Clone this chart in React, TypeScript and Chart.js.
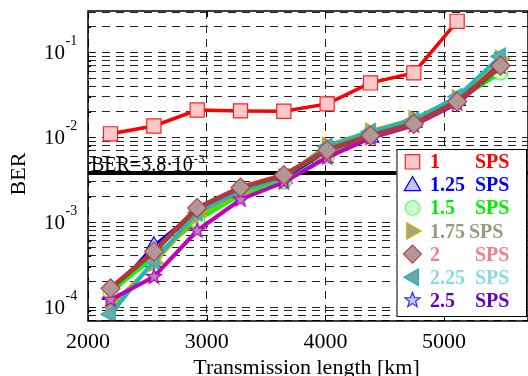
import React, { useEffect, useRef } from 'react';
import { Chart, registerables } from 'chart.js';

Chart.register(...registerables);

// ---------- data ----------
const lengthKm = [2190, 2555, 2920, 3285, 3650, 4015, 4380, 4745, 5110, 5475];
const ber1 = [0.011, 0.0136, 0.021, 0.0205, 0.0203, 0.0248, 0.0438, 0.0575, 0.233];
const ber125 = [1.4e-4, 5.2e-4, 1.35e-3, 2.4e-3, 3.3e-3, 7.0e-3, 0.0100, 0.0150, 0.027, 0.080];
const ber15 = [1.5e-4, 3.9e-4, 1.05e-3, 2.1e-3, 3.0e-3, 6.0e-3, 0.0112, 0.0145, 0.027, 0.058];
const ber175 = [1.0e-4, 3.3e-4, 1.2e-3, 2.2e-3, 3.4e-3, 8.0e-3, 0.0118, 0.0165, 0.029, 0.085];
const ber2 = [1.66e-4, 4.5e-4, 1.47e-3, 2.56e-3, 3.58e-3, 7.06e-3, 0.0105, 0.0144, 0.0264, 0.070];
const ber225 = [8.2e-5, 3.5e-4, 1.3e-3, 2.3e-3, 3.4e-3, 7.8e-3, 0.0116, 0.0160, 0.030, 0.090];
const ber25 = [1.22e-4, 2.27e-4, 7.96e-4, 1.85e-3, 2.95e-3, 5.8e-3, 0.0098, 0.0138, 0.025, 0.068];

const seriesValues = [ber1, ber125, ber15, ber175, ber2, ber225, ber25];
const spsLabels = ['1', '1.25', '1.5', '1.75', '2', '2.25', '2.5'];
const unitLabel = 'SPS';

const xTickValues = [2000, 3000, 4000, 5000];
const yDecadeTicks = [1e-4, 1e-3, 1e-2, 1e-1];
const yDecadeExponents = ['-4', '-3', '-2', '-1'];

const berLimit = 3.8e-3;
const berLimitLabel = 'BER=3.8·10';
const berLimitExponent = '-3';
const xTitle = 'Transmission length [km]';
const yTitle = 'BER';

const xMin = 2000;
const xMax = 5707;
const yMin = 6.84e-5;
const yMax = 0.3084;

// ---------- styles ----------
type Shape = 'square' | 'triUp' | 'circle' | 'triRight' | 'diamond' | 'triLeft' | 'star';
const shapes: Shape[] = ['square', 'triUp', 'circle', 'triRight', 'diamond', 'triLeft', 'star'];
const lineColors = ['#ff0000', '#0000ff', '#00ff00', '#b8b000', '#b03838', '#20b8c0', '#c000c0'];
const fillColors = ['#ffc8c8', '#c4c4f4', '#ccffcc', '#a8a478', '#b09898', '#70a8a8', '#c080c8'];
const strokeColors = ['#ff2020', '#0000ff', '#40ff40', '#c0b000', '#b84040', '#10b8c0', '#b000b0'];
const legendFills = ['#ffc8c8', '#c4c4f4', '#ccffcc', '#a8a478', '#b09898', '#70a8a8', '#c8c8ff'];
const legendStrokes = ['#ff2020', '#0000ff', '#60ff60', '#c8b400', '#c04040', '#10b0c0', '#3030ff'];
const textColors = ['#ff0000', '#0000ff', '#00ee00', '#999980', '#f08090', '#88dde0', '#6600cc'];
const drawOrder = [7, 6, 5, 4, 0, 3, 1];
const lineWidths = [3.5, 4, 4, 4, 5, 4, 4];

const SERIF = '"Liberation Serif", "Times New Roman", serif';

function starPath(ctx: CanvasRenderingContext2D, cx: number, cy: number, R: number, r: number) {
  ctx.beginPath();
  for (let i = 0; i < 10; i++) {
    const ang = -Math.PI / 2 + (i * Math.PI) / 5;
    const rad = i % 2 === 0 ? R : r;
    const px = cx + rad * Math.cos(ang);
    const py = cy + rad * Math.sin(ang);
    if (i === 0) ctx.moveTo(px, py);
    else ctx.lineTo(px, py);
  }
  ctx.closePath();
}

function makeStarImage(R: number, fill: string, stroke: string) {
  const c = document.createElement('canvas');
  const s = Math.ceil(2 * R + 4);
  c.width = s;
  c.height = s;
  const g = c.getContext('2d')!;
  starPath(g, s / 2, s / 2, R, R * 0.4);
  g.fillStyle = fill;
  g.fill();
  g.lineWidth = 1.2;
  g.strokeStyle = stroke;
  g.stroke();
  return c;
}

function triPath(ctx: CanvasRenderingContext2D, x: number, y: number, r: number, rotDeg: number) {
  ctx.beginPath();
  for (let i = 0; i < 3; i++) {
    const a = ((rotDeg + i * 120) * Math.PI) / 180;
    const px = x + Math.sin(a) * r;
    const py = y - Math.cos(a) * r;
    if (i === 0) ctx.moveTo(px, py);
    else ctx.lineTo(px, py);
  }
  ctx.closePath();
}

function drawShape(ctx: CanvasRenderingContext2D, shape: Shape, x: number, y: number, fill: string, stroke: string) {
  switch (shape) {
    case 'square':
      ctx.beginPath();
      ctx.rect(x - 7.2, y - 7.2, 14.4, 14.4);
      break;
    case 'circle':
      ctx.beginPath();
      ctx.arc(x, y, 7.3, 0, Math.PI * 2);
      break;
    case 'diamond':
      ctx.beginPath();
      ctx.moveTo(x, y - 9);
      ctx.lineTo(x + 9, y);
      ctx.lineTo(x, y + 9);
      ctx.lineTo(x - 9, y);
      ctx.closePath();
      break;
    case 'triUp':
      triPath(ctx, x, y + 1, 9.5, 0);
      break;
    case 'triRight':
      triPath(ctx, x - 1, y, 9.5, 90);
      break;
    case 'triLeft':
      triPath(ctx, x + 1, y, 9.5, 270);
      break;
    case 'star':
      starPath(ctx, x, y, 8, 3.3);
      break;
  }
  ctx.fillStyle = fill;
  ctx.fill();
  ctx.lineWidth = 1.2;
  ctx.strokeStyle = stroke;
  ctx.stroke();
}

const decorPlugin = {
  id: 'decor',
  beforeDatasetsDraw(chart: any) {
    const { ctx, chartArea: a, scales } = chart;
    const yPix = scales.y.getPixelForValue(berLimit);
    ctx.save();
    ctx.beginPath();
    ctx.rect(a.left, a.top, a.right - a.left, a.bottom - a.top);
    ctx.clip();
    ctx.strokeStyle = '#000';
    ctx.lineWidth = 4;
    ctx.beginPath();
    ctx.moveTo(a.left, yPix);
    ctx.lineTo(a.right, yPix);
    ctx.stroke();
    ctx.fillStyle = '#000';
    ctx.textAlign = 'left';
    ctx.textBaseline = 'alphabetic';
    ctx.font = `20px ${SERIF}`;
    ctx.fillText(berLimitLabel, a.left + 3, yPix - 2.3);
    const w = ctx.measureText(berLimitLabel).width;
    ctx.font = `13px ${SERIF}`;
    ctx.fillText(berLimitExponent, a.left + 3 + w + 1, yPix - 10);
    ctx.restore();
  },
  afterDraw(chart: any) {
    const { ctx, chartArea: a, scales } = chart;
    const xs = scales.x;
    const ys = scales.y;
    ctx.save();
    // axes box
    ctx.strokeStyle = '#000';
    ctx.lineWidth = 1.5;
    ctx.strokeRect(a.left, a.top, a.right - a.left, a.bottom - a.top);
    // inward ticks
    ctx.lineWidth = 1;
    ctx.beginPath();
    xTickValues.forEach((v) => {
      const x = Math.round(xs.getPixelForValue(v)) + 0.5;
      ctx.moveTo(x, a.bottom);
      ctx.lineTo(x, a.bottom - 6);
      ctx.moveTo(x, a.top);
      ctx.lineTo(x, a.top + 6);
    });
    ys.ticks.forEach((t: any) => {
      const y = Math.round(ys.getPixelForValue(t.value)) + 0.5;
      const len = t.major ? 6 : 3;
      ctx.moveTo(a.left, y);
      ctx.lineTo(a.left + len, y);
    });
    ctx.stroke();

    ctx.fillStyle = '#000';
    ctx.textBaseline = 'alphabetic';
    // y tick labels
    yDecadeTicks.forEach((v, i) => {
      const y = ys.getPixelForValue(v);
      ctx.font = `21px ${SERIF}`;
      ctx.textAlign = 'right';
      ctx.fillText('10', a.left - 23, y + 6.5);
      ctx.font = `14px ${SERIF}`;
      ctx.textAlign = 'left';
      ctx.fillText(yDecadeExponents[i], a.left - 22.5, y - 7.5);
    });
    // x tick labels
    ctx.font = `22px ${SERIF}`;
    ctx.textAlign = 'center';
    xTickValues.forEach((v) => {
      ctx.fillText(String(v), xs.getPixelForValue(v), a.bottom + 26.5);
    });
    // x title
    ctx.fillText(xTitle, (a.left + a.right) / 2 - 1.5, a.bottom + 53.3);
    // y title
    ctx.save();
    ctx.translate(25, 174);
    ctx.rotate(-Math.PI / 2);
    ctx.textAlign = 'center';
    ctx.font = `22px ${SERIF}`;
    ctx.fillText(yTitle, 0, 0);
    ctx.restore();

    // legend
    const bw = 129.5;
    const bh = 167;
    const bx = a.right - 131.5;
    const by = a.bottom - 172;
    ctx.fillStyle = '#fff';
    ctx.fillRect(bx, by, bw, bh);
    ctx.strokeStyle = '#000';
    ctx.lineWidth = 1;
    ctx.strokeRect(bx + 0.5, by + 0.5, bw, bh);
    ctx.font = `bold 20px ${SERIF}`;
    ctx.textAlign = 'left';
    spsLabels.forEach((lab, i) => {
      const base = by + 19.3 + i * 23.07;
      drawShape(ctx, shapes[i], bx + 16, base - 6.5, legendFills[i], legendStrokes[i]);
      ctx.fillStyle = textColors[i];
      ctx.fillText(lab, bx + 33.5, base);
      ctx.fillText(unitLabel, bx + (lab === '1.75' ? 72.5 : 78.5), base);
    });
    ctx.restore();
  },
};

export default function App() {
  const ref = useRef<HTMLCanvasElement | null>(null);

  useEffect(() => {
    document.body.style.margin = '0';
    const canvas = ref.current!;
    const starImg = makeStarImage(8, fillColors[6], strokeColors[6]);
    const pointStyles: any[] = ['rect', 'triangle', 'circle', 'triangle', 'rectRot', 'triangle', starImg];
    const rotations = [0, 0, 0, 90, 0, 270, 0];
    const radii = [10, 9.5, 7.5, 9.5, 9.5, 9.5, 8];

    const datasets = seriesValues.map((vals, i) => ({
      label: spsLabels[i] + ' ' + unitLabel,
      data: vals.map((v, j) => ({ x: lengthKm[j], y: v })),
      borderColor: lineColors[i],
      borderWidth: lineWidths[i],
      backgroundColor: fillColors[i],
      pointBackgroundColor: fillColors[i],
      pointBorderColor: strokeColors[i],
      pointBorderWidth: 1.2,
      pointStyle: pointStyles[i],
      pointRotation: rotations[i],
      pointRadius: radii[i],
      tension: 0,
      fill: false,
      order: drawOrder[i],
    }));

    const chart = new Chart(canvas, {
      type: 'line',
      data: { datasets },
      options: {
        animation: false,
        responsive: false,
        maintainAspectRatio: false,
        devicePixelRatio: 1,
        layout: { autoPadding: false, padding: { left: 8, right: 0, top: 11, bottom: 0 } },
        plugins: { legend: { display: false }, tooltip: { enabled: false } },
        scales: {
          x: {
            type: 'linear',
            min: xMin,
            max: xMax,
            ticks: { display: false },
            grid: { color: '#222', lineWidth: 1, drawTicks: false },
            border: { display: false, dash: [8, 6] },
            afterBuildTicks: (scale: any) => {
              scale.ticks = xTickValues.map((v) => ({ value: v }));
            },
            afterFit: (scale: any) => {
              scale.height = 55;
            },
          },
          y: {
            type: 'logarithmic',
            min: yMin,
            max: yMax,
            ticks: { display: false },
            grid: { color: '#222', lineWidth: 1, drawTicks: false },
            border: { display: false, dash: [8, 6] },
            afterBuildTicks: (scale: any) => {
              const out: any[] = [];
              for (let e = -5; e <= 0; e++) {
                for (let k = 1; k <= 9; k++) {
                  const v = k * Math.pow(10, e);
                  if (v > scale.min * 1.001 && v < scale.max * 0.999) out.push({ value: v, major: k === 1 });
                }
              }
              scale.ticks = out;
            },
            afterFit: (scale: any) => {
              scale.width = 80;
            },
          },
        },
      },
      plugins: [decorPlugin],
    });
    return () => chart.destroy();
  }, []);

  return (
    <div style={{ width: 528, height: 376 }}>
      <canvas ref={ref} width={528} height={376} style={{ width: 528, height: 376, display: 'block' }} />
    </div>
  );
}
